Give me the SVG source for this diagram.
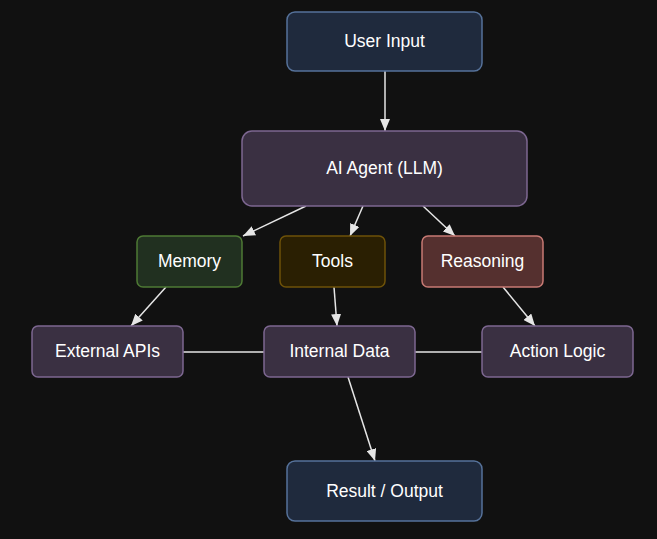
<svg xmlns="http://www.w3.org/2000/svg" width="657" height="539" viewBox="0 0 657 539">
<style>
text{font-family:"Liberation Sans",Arial,sans-serif;font-size:17.5px;fill:#ffffff;text-anchor:middle;dominant-baseline:central}
.blue{fill:#1f2a3d;stroke:#56729a;stroke-width:1.5}
.purple{fill:#3a3042;stroke:#7d6791;stroke-width:1.5}
.green{fill:#213020;stroke:#4e7a34;stroke-width:1.5}
.yellow{fill:#2a1f02;stroke:#6e5208;stroke-width:1.5}
.red{fill:#55302f;stroke:#c87a74;stroke-width:1.5}
.e{stroke:#e6e6e6;stroke-width:1.5;fill:none}
.a{marker-end:url(#arr)}
</style>
<defs>
<marker id="arr" viewBox="0 0 12 10" refX="12" refY="5" markerWidth="12" markerHeight="10" markerUnits="userSpaceOnUse" orient="auto">
<path d="M0,0 L12,5 L0,10 z" fill="#e6e6e6"/>
</marker>
</defs>
<rect width="657" height="539" fill="#111111"/>
<g id="connectors">
<line class="e a" x1="385" y1="71" x2="385" y2="131"/>
<line class="e a" x1="306" y1="206" x2="243" y2="236"/>
<line class="e a" x1="363" y1="206" x2="350" y2="236"/>
<line class="e a" x1="423" y1="206" x2="455" y2="236"/>
<line class="e a" x1="166" y1="287" x2="131" y2="326"/>
<line class="e a" x1="334" y1="287" x2="337" y2="326"/>
<line class="e a" x1="503" y1="287" x2="535" y2="326"/>
<line class="e" x1="183" y1="352" x2="264" y2="352"/>
<line class="e" x1="415" y1="352" x2="482" y2="352"/>
<line class="e a" x1="348" y1="377" x2="375" y2="461"/>
</g>
<g id="user-input"><rect class="blue" x="287" y="12" width="195" height="59" rx="8"/><text x="384.5" y="41">User Input</text></g>
<g id="ai-agent"><rect class="purple" x="242" y="131" width="285" height="75" rx="10"/><text x="384.5" y="168">AI Agent (LLM)</text></g>
<g id="memory"><rect class="green" x="137" y="236" width="105" height="51" rx="6"/><text x="189.5" y="261">Memory</text></g>
<g id="tools"><rect class="yellow" x="280" y="236" width="105" height="51" rx="6"/><text x="332.5" y="261">Tools</text></g>
<g id="reasoning"><rect class="red" x="422" y="236" width="121" height="51" rx="6"/><text x="482.5" y="261">Reasoning</text></g>
<g id="external-apis"><rect class="purple" x="32" y="326" width="151" height="51" rx="6"/><text x="107.5" y="351">External APIs</text></g>
<g id="internal-data"><rect class="purple" x="264" y="326" width="151" height="51" rx="6"/><text x="339.5" y="351">Internal Data</text></g>
<g id="action-logic"><rect class="purple" x="482" y="326" width="151" height="51" rx="6"/><text x="557.5" y="351">Action Logic</text></g>
<g id="result-output"><rect class="blue" x="287" y="461" width="195" height="60" rx="8"/><text x="384.5" y="490.5">Result / Output</text></g>
</svg>
